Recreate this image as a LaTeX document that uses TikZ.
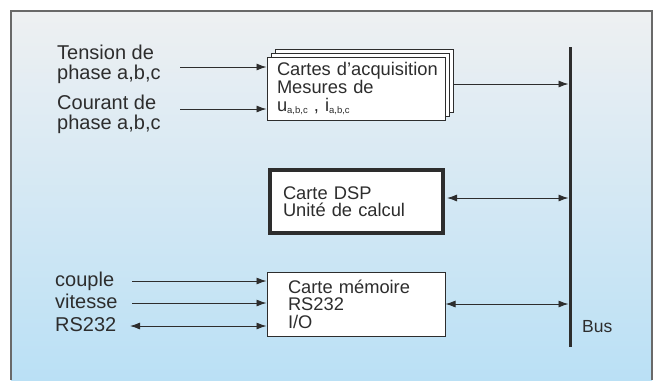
\documentclass[tikz,border=0pt]{standalone}
\usepackage{fontspec}
\setmainfont{Liberation Sans}
\usetikzlibrary{arrows.meta}
\definecolor{bgtop}{RGB}{238,240,242}
\definecolor{bgbot}{RGB}{186,224,245}
\definecolor{ink}{RGB}{45,45,45}
\definecolor{framegray}{RGB}{105,105,105}
\newcommand{\subsc}[1]{\raisebox{-1.5bp}{\fontsize{9.5bp}{9.5bp}\selectfont #1}}
\begin{document}
\begin{tikzpicture}[x=1bp,y=-1bp,
  arr/.style={draw=ink,line width=0.9bp,-{Latex[length=10bp,width=7bp]}},
  darr/.style={draw=ink,line width=0.9bp,{Latex[length=10bp,width=7bp]}-{Latex[length=10bp,width=7bp]}},
  box/.style={draw=ink,fill=white,line width=1bp,rectangle,align=left,text=ink,
    font=\fontsize{18.3bp}{17.5bp}\selectfont},
  lbl/.style={inner sep=0pt,anchor=base west,align=left,text=ink},
]
\useasboundingbox (0,0) rectangle (659,380);
\shade[top color=bgtop,bottom color=bgbot] (11,11) rectangle (652,380);
\draw[framegray,line width=1.2bp] (11,380) -- (11,11) -- (652,11) -- (652,380);

% acquisition cards (stack)
\node[box,minimum width=178bp,minimum height=63bp] (acq2) at (364,80.5) {};
\node[box,minimum width=178bp,minimum height=63bp] (acq1) at (360,84.5) {};
\node[box,minimum width=178bp,minimum height=63bp,text width=164bp,inner xsep=7bp,inner ysep=0pt] (acq) at (356,88.5)
  {\hspace*{3bp}Cartes d'acquisition\\\hspace*{3bp}Mesures de\\[1bp]\hspace*{3bp}u\subsc{a,b,c} , i\subsc{a,b,c}};

% DSP card
\node[box,line width=4bp,minimum width=173bp,minimum height=63bp,text width=147bp,inner xsep=13bp] (dsp) at (356.5,201.5)
  {Carte DSP\\Unité de calcul};

% memory card
\node[box,minimum width=178bp,minimum height=64bp,text width=136bp,inner xsep=21bp] (mem) at (356,304)
  {Carte mémoire\\RS232\\I/O};

% bus
\coordinate (bustop) at (570,47);
\coordinate (busbot) at (570,347);
\draw[ink,line width=3bp] (bustop) -- (busbot);
\node[lbl,font=\fontsize{17.5bp}{17.5bp}\selectfont] (buslbl) at (582,332) {Bus};

% left labels (base = last line)
\node[lbl,font=\fontsize{20bp}{20bp}\selectfont] (ten) at (57,79) {Tension de\\phase a,b,c};
\node[lbl,font=\fontsize{20bp}{19.5bp}\selectfont] (cou) at (57,129) {Courant de\\phase a,b,c};
\node[lbl,font=\fontsize{20bp}{20bp}\selectfont] (cpl) at (55,286) {couple};
\node[lbl,font=\fontsize{20bp}{20bp}\selectfont] (vit) at (55,308) {vitesse};
\node[lbl,font=\fontsize{20bp}{20bp}\selectfont] (rs) at (55,331) {RS232};

\coordinate (tenS) at (180,67);
\coordinate (couS) at (180,109);
\coordinate (cplS) at (132,281);
\coordinate (vitS) at (132,303);
\coordinate (rsS) at (130,326);

\draw[arr] (tenS) -- (tenS -| acq.west);
\draw[arr] (couS) -- (couS -| acq.west);
\draw[arr] (cplS) -- (cplS -| mem.west);
\draw[arr] (vitS) -- (vitS -| mem.west);
\draw[darr] (rsS) -- (rsS -| mem.west);

\coordinate (acqO) at (acq2.east |- 0,84);
\draw[arr,shorten >=1.5bp] (acqO) -- (acqO -| bustop);
\coordinate (dspO) at (dsp.east |- 0,198);
\draw[darr,shorten >=1.5bp,shorten <=2bp] (dspO) -- (dspO -| bustop);
\coordinate (memO) at (mem.east |- 0,304);
\draw[darr,shorten >=1.5bp] (memO) -- (memO -| bustop);
\end{tikzpicture}
\end{document}
